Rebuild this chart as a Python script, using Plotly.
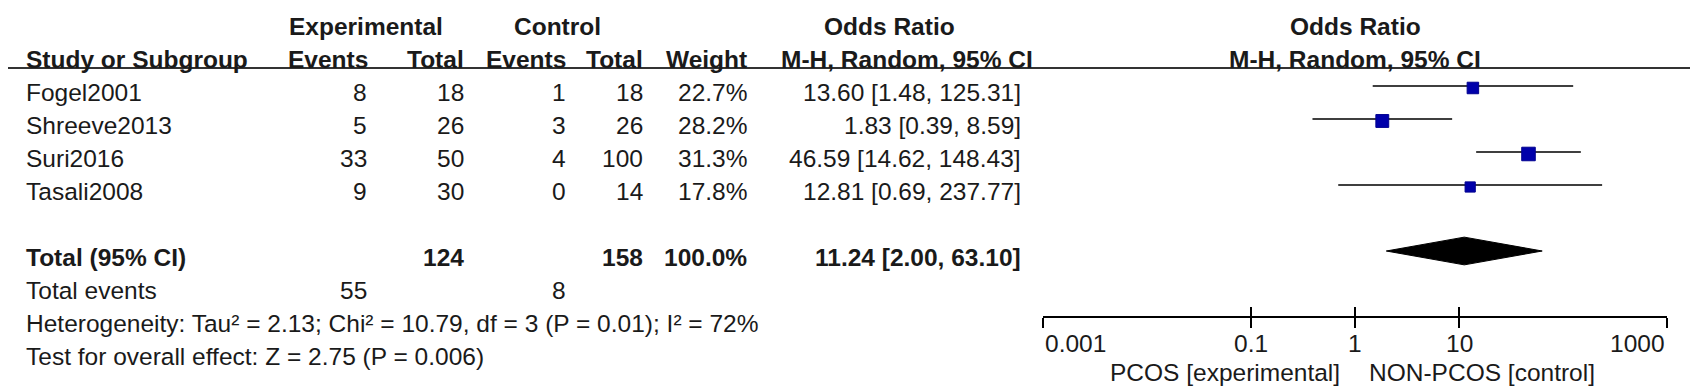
import math
import plotly.graph_objects as go

# ---------------- data ----------------
studies = ["Fogel2001", "Shreeve2013", "Suri2016", "Tasali2008"]
exp_events = [8, 5, 33, 9]
exp_total = [18, 26, 50, 30]
ctl_events = [1, 3, 4, 0]
ctl_total = [18, 26, 100, 14]
weights = [22.7, 28.2, 31.3, 17.8]
or_est = [13.60, 1.83, 46.59, 12.81]
or_lo = [1.48, 0.39, 14.62, 0.69]
or_hi = [125.31, 8.59, 148.43, 237.77]

total_exp = 124
total_ctl = 158
total_weight = 100.0
total_or = 11.24
total_lo = 2.00
total_hi = 63.10
events_exp = 55
events_ctl = 8

het_text = "Heterogeneity: Tau² = 2.13; Chi² = 10.79, df = 3 (P = 0.01); I² = 72%"
overall_text = "Test for overall effect: Z = 2.75 (P = 0.006)"

tick_vals = [0.001, 0.1, 1, 10, 1000]
tick_text = ["0.001", "0.1", "1", "10", "1000"]
left_label = "PCOS [experimental]"
right_label = "NON-PCOS [control]"

# ---------------- layout constants ----------------
W, H = 1699, 389
FONT = "Liberation Sans, Arial, sans-serif"
FS = 24.5
TXT = "#1a1a1a"
row_total = 5
row_events = 6
row_het = 7
row_test = 8
row_axis = 7
TOFF = 0.21  # text offset below the mark line (rows)

fig = go.Figure()

# CI lines
for i in range(len(studies)):
    fig.add_trace(go.Scatter(x=[or_lo[i], or_hi[i]], y=[i, i], mode="lines",
                             line=dict(color="#3f3f3f", width=2),
                             hoverinfo="skip", showlegend=False))
# squares
fig.add_trace(go.Scatter(x=or_est, y=[i + 0.06 for i in range(len(studies))], mode="markers",
                         marker=dict(symbol="square", color="#0000AA", opacity=1,
                                     size=[2.42 * math.sqrt(w) for w in weights],
                                     line=dict(width=1, color="#000090")),
                         showlegend=False))
# diamond
dh = 0.42
fig.add_trace(go.Scatter(x=[total_lo, total_or, total_hi, total_or, total_lo],
                         y=[row_total, row_total - dh, row_total, row_total + dh, row_total],
                         mode="lines", fill="toself", fillcolor="black",
                         line=dict(color="black", width=1), showlegend=False))
# invisible trace for secondary axis (upward ticks)
fig.add_trace(go.Scatter(x=[1], y=[row_axis], xaxis="x2", mode="markers",
                         marker=dict(opacity=0), showlegend=False, hoverinfo="skip"))

ann = []
def px(v):
    return v / W

def add(text, x, y, anchor, bold=False, xref="paper", xshift=0):
    t = f"<b>{text}</b>" if bold else text
    ann.append(dict(text=t, x=x, y=y, xref=xref, yref="y", xanchor=anchor,
                    yanchor="middle", showarrow=False, xshift=xshift,
                    font=dict(family=FONT, size=FS, color=TXT)))

# column positions (px)
c_name = 24
c_ee, c_et, c_ce, c_ct, c_w, c_or = 369, 466, 568, 645, 749, 1023
c_or_center = 907

# headers
add("Experimental", px(366), -2 + TOFF, "center", True)
add("Control", px(557), -2 + TOFF, "center", True)
add("Odds Ratio", px(889), -2 + TOFF, "center", True)
add("Odds Ratio", 0, -2 + TOFF, "center", True, xref="x")
add("Study or Subgroup", px(c_name), -1 + TOFF, "left", True)
add("Events", px(c_ee + 1), -1 + TOFF, "right", True)
add("Total", px(c_et), -1 + TOFF, "right", True)
add("Events", px(c_ce), -1 + TOFF, "right", True)
add("Total", px(c_ct), -1 + TOFF, "right", True)
add("Weight", px(c_w), -1 + TOFF, "right", True)
add("M-H, Random, 95% CI", px(c_or_center), -1 + TOFF, "center", True)
add("M-H, Random, 95% CI", 0, -1 + TOFF, "center", True, xref="x")

# study rows
for i, s in enumerate(studies):
    y = i + TOFF
    add(s, px(c_name), y, "left")
    add(str(exp_events[i]), px(c_ee), y, "right")
    add(str(exp_total[i]), px(c_et), y, "right")
    add(str(ctl_events[i]), px(c_ce), y, "right")
    add(str(ctl_total[i]), px(c_ct), y, "right")
    add(f"{weights[i]:.1f}%", px(c_w), y, "right")
    add(f"{or_est[i]:.2f} [{or_lo[i]:.2f}, {or_hi[i]:.2f}]", px(c_or), y, "right")

# total row
y = row_total + TOFF
add("Total (95% CI)", px(c_name), y, "left", True)
add(str(total_exp), px(c_et), y, "right", True)
add(str(total_ctl), px(c_ct), y, "right", True)
add(f"{total_weight:.1f}%", px(c_w), y, "right", True)
add(f"{total_or:.2f} [{total_lo:.2f}, {total_hi:.2f}]", px(c_or), y, "right", True)

y = row_events + TOFF
add("Total events", px(c_name), y, "left")
add(str(events_exp), px(c_ee), y, "right")
add(str(events_ctl), px(c_ce), y, "right")
add(het_text, px(c_name), row_het + TOFF, "left")
add(overall_text, px(c_name), row_test + TOFF, "left")

# tick labels
for k, (v, t) in enumerate(zip(tick_vals, tick_text)):
    anchor = "left" if k == 0 else ("right" if k == len(tick_vals) - 1 else "center")
    add(t, math.log10(v), 7.8, anchor, xref="x")

add(left_label, 0, 8.68, "right", xref="x", xshift=-13)
add(right_label, 0, 8.68, "left", xref="x", xshift=12)

shapes = [
    dict(type="line", xref="paper", yref="y", x0=px(8), x1=px(1690), y0=-0.545, y1=-0.545,
         line=dict(color="#333333", width=2)),
    dict(type="line", xref="x", yref="y", x0=0, x1=0, y0=-0.545, y1=row_axis,
         line=dict(color="#222222", width=2)),
]

xdom = [1043 / W, 1667 / W]
axis_pos = 1 - 317 / H
common = dict(type="log", range=[-3, 3], domain=xdom, anchor="free", position=axis_pos,
              tickvals=tick_vals, showticklabels=False, showgrid=False, zeroline=False,
              ticklen=10, tickwidth=2, tickcolor="black")

fig.update_layout(
    width=W, height=H, margin=dict(l=0, r=0, t=0, b=0),
    paper_bgcolor="white", plot_bgcolor="white",
    xaxis=dict(**common, showline=True, linecolor="black", linewidth=2, ticks="outside"),
    xaxis2=dict(**common, overlaying="x", matches="x", showline=False, ticks="inside"),
    yaxis=dict(range=[9.182, -2.606], domain=[0, 1], visible=False, fixedrange=True),
    annotations=ann, shapes=shapes, showlegend=False,
)

fig.write_html("out.html", config={"displayModeBar": False},
               post_script="document.body.style.margin='0';document.body.style.overflow='hidden';")
